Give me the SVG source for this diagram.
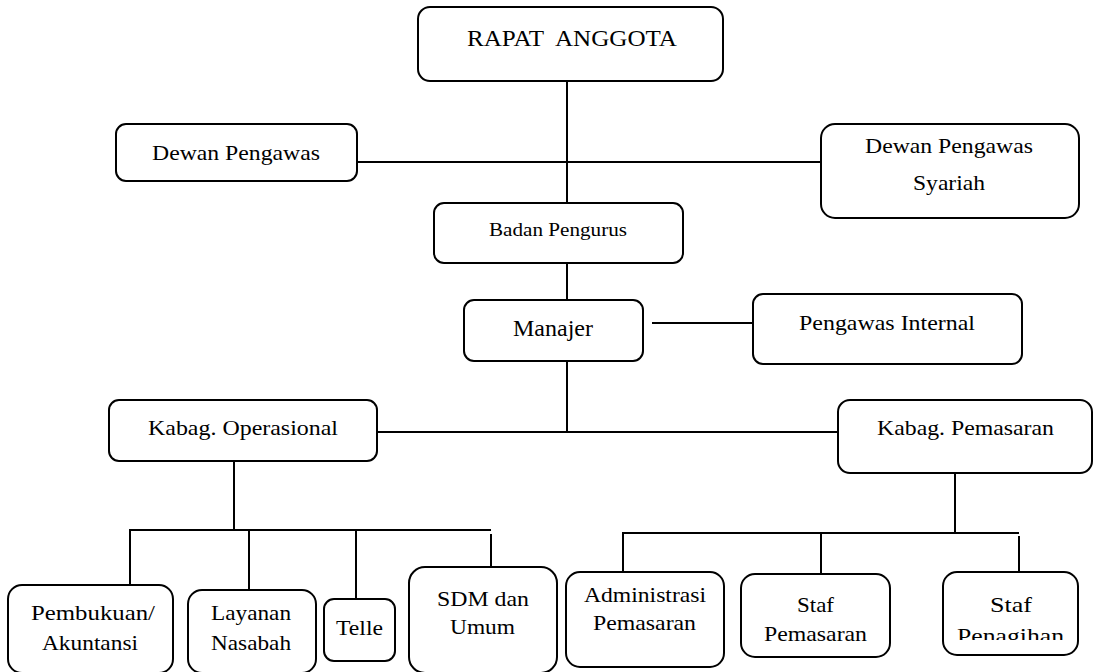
<svg xmlns="http://www.w3.org/2000/svg" width="1094" height="672" viewBox="0 0 1094 672">
<style>
.box{fill:#fff;stroke:#000;stroke-width:2}
.c line{stroke:#000;stroke-width:2}
</style>
<defs>
<clipPath id="clipPen"><rect x="940" y="560" width="140" height="80"/></clipPath>
</defs>
<rect width="1094" height="672" fill="#fff"/>
<g class="c" id="connectors">
<line x1="567" y1="81" x2="567" y2="203"/>
<line x1="357" y1="162" x2="821" y2="162"/>
<line x1="567" y1="263" x2="567" y2="300"/>
<line x1="652" y1="323" x2="753" y2="323"/>
<line x1="567" y1="361" x2="567" y2="432"/>
<line x1="378" y1="432" x2="838" y2="432"/>
<line x1="234" y1="461" x2="234" y2="530"/>
<line x1="129" y1="530" x2="491" y2="530"/>
<line x1="130" y1="530" x2="130" y2="585"/>
<line x1="249" y1="530" x2="249" y2="590"/>
<line x1="356" y1="530" x2="356" y2="599"/>
<line x1="491" y1="534" x2="491" y2="567"/>
<line x1="955" y1="473" x2="955" y2="533"/>
<line x1="622" y1="533" x2="1019" y2="533"/>
<line x1="623" y1="533" x2="623" y2="572"/>
<line x1="821" y1="533" x2="821" y2="574"/>
<line x1="1019" y1="536" x2="1019" y2="572"/>
</g>
<g font-family="'Liberation Serif', 'Times New Roman', serif" font-size="22" fill="#000">
<g id="rapat-anggota">
<rect class="box" x="418" y="7" width="305" height="74" rx="12"/>
<text x="467" y="46" font-size="23" xml:space="preserve" textLength="210" lengthAdjust="spacingAndGlyphs">RAPAT  ANGGOTA</text>
</g>
<g id="dewan-pengawas">
<rect class="box" x="116" y="124" width="241" height="57" rx="10"/>
<text x="152" y="160" textLength="168" lengthAdjust="spacingAndGlyphs">Dewan Pengawas</text>
</g>
<g id="dewan-pengawas-syariah">
<rect class="box" x="821" y="124" width="258" height="94" rx="14"/>
<text x="865" y="153" textLength="168" lengthAdjust="spacingAndGlyphs">Dewan Pengawas</text>
<text x="913" y="190" textLength="72" lengthAdjust="spacingAndGlyphs">Syariah</text>
</g>
<g id="badan-pengurus">
<rect class="box" x="434" y="203" width="249" height="60" rx="10"/>
<text x="489" y="236" font-size="19" textLength="138" lengthAdjust="spacingAndGlyphs">Badan Pengurus</text>
</g>
<g id="manajer">
<rect class="box" x="464" y="300" width="179" height="61" rx="10"/>
<text x="513" y="336" font-size="23" textLength="80" lengthAdjust="spacingAndGlyphs">Manajer</text>
</g>
<g id="pengawas-internal">
<rect class="box" x="753" y="294" width="269" height="70" rx="10"/>
<text x="799" y="330" textLength="176" lengthAdjust="spacingAndGlyphs">Pengawas Internal</text>
</g>
<g id="kabag-operasional">
<rect class="box" x="109" y="400" width="268" height="61" rx="10"/>
<text x="148" y="435" textLength="190" lengthAdjust="spacingAndGlyphs">Kabag. Operasional</text>
</g>
<g id="kabag-pemasaran">
<rect class="box" x="838" y="400" width="254" height="73" rx="12"/>
<text x="877" y="435" textLength="177" lengthAdjust="spacingAndGlyphs">Kabag. Pemasaran</text>
</g>
<g id="pembukuan">
<rect class="box" x="8" y="585" width="165" height="88" rx="14"/>
<text x="31" y="620" textLength="124" lengthAdjust="spacingAndGlyphs">Pembukuan/</text>
<text x="42" y="650" textLength="96" lengthAdjust="spacingAndGlyphs">Akuntansi</text>
</g>
<g id="layanan-nasabah">
<rect class="box" x="188" y="590" width="128" height="83" rx="14"/>
<text x="211" y="620" textLength="80" lengthAdjust="spacingAndGlyphs">Layanan</text>
<text x="211" y="650" textLength="80" lengthAdjust="spacingAndGlyphs">Nasabah</text>
</g>
<g id="telle">
<rect class="box" x="324" y="599" width="71" height="62" rx="10"/>
<text x="336" y="635" textLength="47" lengthAdjust="spacingAndGlyphs">Telle</text>
</g>
<g id="sdm-umum">
<rect class="box" x="409" y="567" width="148" height="106" rx="16"/>
<text x="437" y="606" textLength="92" lengthAdjust="spacingAndGlyphs">SDM dan</text>
<text x="450" y="634" textLength="65" lengthAdjust="spacingAndGlyphs">Umum</text>
</g>
<g id="administrasi-pemasaran">
<rect class="box" x="566" y="572" width="158" height="95" rx="14"/>
<text x="584" y="602" textLength="122" lengthAdjust="spacingAndGlyphs">Administrasi</text>
<text x="593" y="630" textLength="103" lengthAdjust="spacingAndGlyphs">Pemasaran</text>
</g>
<g id="staf-pemasaran">
<rect class="box" x="741" y="574" width="149" height="83" rx="14"/>
<text x="797" y="612" textLength="37" lengthAdjust="spacingAndGlyphs">Staf</text>
<text x="764" y="641" textLength="103" lengthAdjust="spacingAndGlyphs">Pemasaran</text>
</g>
<g id="staf-penagihan">
<rect class="box" x="943" y="572" width="135" height="83" rx="14"/>
<text x="990" y="612" textLength="42" lengthAdjust="spacingAndGlyphs">Staf</text>
<text x="957" y="643" textLength="107" lengthAdjust="spacingAndGlyphs" clip-path="url(#clipPen)">Penagihan</text>
</g>
</g>
</svg>
